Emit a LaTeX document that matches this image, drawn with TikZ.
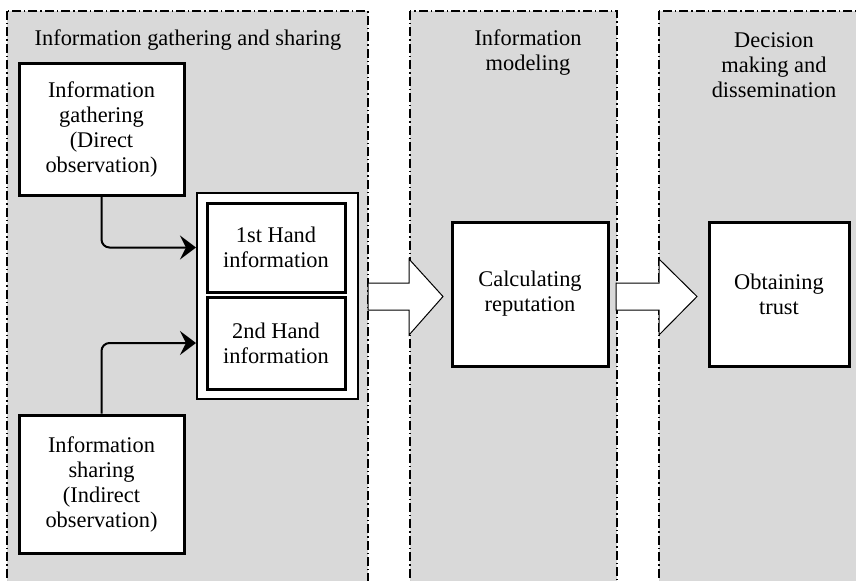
\documentclass[tikz,border=0pt]{standalone}
\usepackage{fontspec}
\setmainfont{Liberation Serif}
\usetikzlibrary{arrows.meta}
\definecolor{panelgray}{RGB}{217,217,217}

\begin{document}
\begin{tikzpicture}[
    x=0.5pt, y=-0.5pt,
    panel/.style={draw, fill=panelgray, line width=0.6pt,
                  dash pattern=on 4.5pt off 1.5pt on 0.7pt off 1.5pt},
    box/.style={draw, fill=white, line width=1.5pt, align=center,
                inner sep=0pt, font=\fontsize{11.2}{12.5}\selectfont},
    heading/.style={align=center, font=\fontsize{11.2}{12.5}\selectfont},
    arrow/.style={-{Stealth[length=8pt, width=12pt, inset=3pt]}, line width=1pt,
                  rounded corners=4pt},
    blockarrow/.style={draw, fill=white, line width=0.5pt},
]
    \clip (0,0) rectangle (856,580);

    % the three phases
    \draw[panel] (7,11) rectangle (368,600);
    \draw[panel] (410,11) rectangle (617,600);
    \draw[panel] (659,11) rectangle (880,600);

    \node[heading] (h1) at (188,40) {Information gathering and sharing};
    \node[heading] (h2) at (528,52.5) {Information\\modeling};
    \node[heading] (h3) at (774,65) {Decision\\making and\\dissemination};

    % information gathering and sharing
    \node[box, minimum width=82.5pt, minimum height=66pt] (gather) at (101.5,129)
        {Information\\gathering\\(Direct\\observation)};
    \node[box, minimum width=82.5pt, minimum height=69pt] (share) at (101.5,484)
        {Information\\sharing\\(Indirect\\observation)};
    \node[box, line width=1pt, minimum width=80.5pt, minimum height=103pt] (hand) at (277.5,296) {};
    \node[box, minimum width=69pt, minimum height=44.5pt] (first) at (276,247.5)
        {1st Hand\\information};
    \node[box, minimum width=69pt, minimum height=46pt] (second) at (276,343)
        {2nd Hand\\information};

    \draw[arrow] (gather.south) |- (hand.west |- first);
    \draw[arrow] (share.north) |- (hand.west |- second);

    % modeling and decision
    \node[box, minimum width=78pt, minimum height=72pt] (calc) at (530,294)
        {Calculating\\reputation};
    \node[box, minimum width=70pt, minimum height=72pt] (trust) at (779,294)
        {Obtaining\\trust};

    \draw[blockarrow] (368,283) -- (409,283) -- (409,259) -- (443,296.5)
        -- (409,335) -- (409,310) -- (368,310) -- cycle;
    \draw[blockarrow] (616,283) -- (659,283) -- (659,259) -- (697,296.5)
        -- (659,335) -- (659,310) -- (616,310) -- cycle;
\end{tikzpicture}
\end{document}
